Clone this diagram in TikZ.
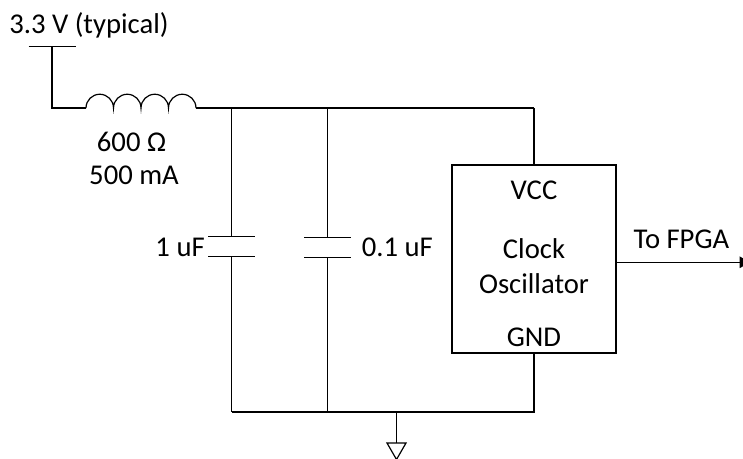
\documentclass[tikz,border=0pt]{standalone}
\usepackage{fontspec}
\setmainfont{Carlito}
\usetikzlibrary{arrows.meta}

\begin{document}
\begin{tikzpicture}[x=0.75pt,y=0.75pt,yscale=-1,
  wire/.style={line width=0.9pt},
  lbl/.style={inner sep=0pt,font=\fontsize{21.5}{25}\selectfont}]
\useasboundingbox (0,0) rectangle (743,459);

%Supply, choke and top rail
\coordinate (vsup) at (52,46.5);
\coordinate (vcor) at (52,108);
\coordinate (lin) at (86,108);
\coordinate (lout) at (196,108);
\coordinate (ctop1) at (231.5,108);
\coordinate (ctop2) at (327.5,108);
\coordinate (rtop) at (534,108);
\draw [wire] (vsup) +(-23.5,0) -- +(23.5,0);
\draw [wire] (vsup) -- (vcor) -- (lin);
\draw [wire] (lin) arc (180:360:13.75) arc (180:360:13.75) arc (180:360:13.75) arc (180:360:13.75);
\draw [wire] (lout) -- (ctop1) -- (ctop2) -- (rtop);

%Oscillator box
\node (osc) [draw,wire,minimum width=123pt,minimum height=141pt,inner sep=0pt] at (534,259) {};
\draw [wire] (rtop) -- (osc.north);

%Capacitors
\coordinate (cpa1) at (231.5,236.5);
\coordinate (cpb1) at (231.5,256.8);
\coordinate (cpa2) at (327.5,237.3);
\coordinate (cpb2) at (327.5,257.3);
\coordinate (cbot1) at (231.5,412);
\coordinate (cbot2) at (327.5,412);
\draw [wire] (ctop1) -- (cpa1);
\draw [wire] (cpa1) +(-23.5,0) -- +(23.5,0);
\draw [wire] (cpb1) +(-23.5,0) -- +(23.5,0);
\draw [wire] (cpb1) -- (cbot1);
\draw [wire] (ctop2) -- (cpa2);
\draw [wire] (cpa2) +(-23.5,0) -- +(23.5,0);
\draw [wire] (cpb2) +(-23.5,0) -- +(23.5,0);
\draw [wire] (cpb2) -- (cbot2);

%Ground rail and symbol
\coordinate (gjun) at (396.5,412);
\coordinate (gnd) at (396.5,443);
\coordinate (rbot) at (534,412);
\draw [wire] (cbot1) -- (cbot2) -- (gjun) -- (rbot) -- (osc.south);
\draw [wire] (gjun) -- (gnd);
\draw [wire] (gnd) -- ++(-9.5,0) -- ++(9.5,16.5) -- ++(9.5,-16.5) -- cycle;

%Output
\coordinate (fpga) at (753,262.3);
\draw [wire,-{Latex[length=10pt,width=9pt]}] (osc.east |- fpga) -- (fpga);

% Text Node
\node (vlab) [lbl,anchor=base west] at (9,33.5) {3.3 V (typical)};
% Text Node
\node (lres) [lbl,anchor=base] at (131.5,151.5) {600 Ω};
% Text Node
\node (lcur) [lbl,anchor=base] at (134,185) {500 mA};
% Text Node
\node (c1lab) [lbl,anchor=base east] at (205,256.5) {1 uF};
% Text Node
\node (c2lab) [lbl,anchor=base west] at (361.5,257) {0.1 uF};
% Text Node
\node (vcc) [lbl,anchor=base] at (534,200) {VCC};
% Text Node
\node (clk) [lbl,anchor=base] at (534,259) {Clock};
% Text Node
\node (oscl) [lbl,anchor=base] at (534,293.3) {Oscillator};
% Text Node
\node (gndl) [lbl,anchor=base] at (534,346.5) {GND};
% Text Node
\node (tofpga) [lbl,anchor=base west] at (633.3,248.3) {To FPGA};

\end{tikzpicture}
\end{document}
